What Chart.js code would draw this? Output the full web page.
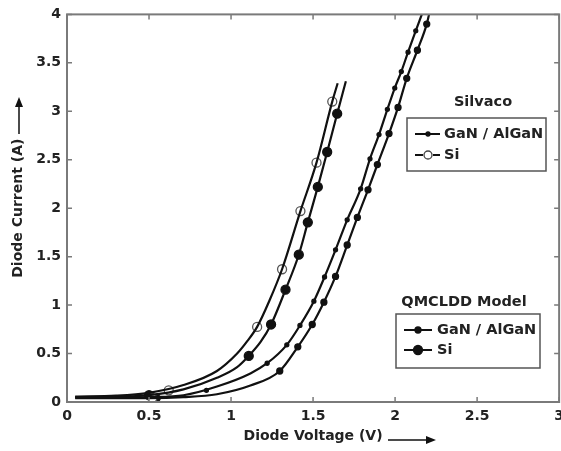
<!DOCTYPE html>
<html>
<head>
<meta charset="utf-8">
<script src="https://cdn.jsdelivr.net/npm/chart.js@4.4.1/dist/chart.umd.min.js"></script>
<style>
  html, body { margin: 0; padding: 0; background: #fff; overflow: hidden; }
  #wrap { width: 561px; height: 451px; overflow: hidden; }
</style>
</head>
<body>
<div id="wrap"><canvas id="chart" width="570" height="451"></canvas></div>
<script>
// curves (voltage in V, current in A)
const silvacoGaNV = [0.05, 0.3, 0.5, 0.71, 0.914, 1.118, 1.22, 1.34, 1.42, 1.505, 1.57, 1.637, 1.708, 1.79, 1.847, 1.902, 1.953, 1.998, 2.038, 2.079, 2.126, 2.163];
const silvacoGaNI = [0.05, 0.045, 0.05, 0.07, 0.16, 0.295, 0.4, 0.59, 0.79, 1.04, 1.29, 1.57, 1.88, 2.2, 2.51, 2.76, 3.02, 3.24, 3.41, 3.61, 3.83, 4.0];
const silvacoGaNMarkV = [0.85, 1.22, 1.34, 1.42, 1.505, 1.57, 1.637, 1.708, 1.79, 1.847, 1.902, 1.953, 1.998, 2.038, 2.079, 2.126];
const silvacoGaNMarkI = [0.12, 0.4, 0.59, 0.79, 1.04, 1.29, 1.57, 1.88, 2.2, 2.51, 2.76, 3.02, 3.24, 3.41, 3.61, 3.83];

const silvacoSiV = [0.05, 0.3, 0.5, 0.71, 0.914, 1.037, 1.1, 1.159, 1.235, 1.311, 1.423, 1.521, 1.617, 1.65];
const silvacoSiI = [0.055, 0.065, 0.095, 0.175, 0.32, 0.5, 0.63, 0.775, 1.05, 1.37, 1.97, 2.47, 3.1, 3.29];
const silvacoSiMarkV = [0.52, 0.62, 1.159, 1.311, 1.423, 1.521, 1.617];
const silvacoSiMarkI = [0.04, 0.12, 0.775, 1.37, 1.97, 2.47, 3.1];

const qmclddGaNV = [0.05, 0.3, 0.5, 0.71, 0.914, 1.118, 1.297, 1.407, 1.495, 1.566, 1.637, 1.708, 1.77, 1.835, 1.892, 1.963, 2.018, 2.071, 2.136, 2.193, 2.207];
const qmclddGaNI = [0.04, 0.04, 0.04, 0.05, 0.08, 0.17, 0.32, 0.569, 0.8, 1.03, 1.296, 1.62, 1.905, 2.19, 2.45, 2.77, 3.04, 3.34, 3.63, 3.9, 4.0];
const qmclddGaNMarkV = [0.55, 1.297, 1.407, 1.495, 1.566, 1.637, 1.708, 1.77, 1.835, 1.892, 1.963, 2.018, 2.071, 2.136, 2.193];
const qmclddGaNMarkI = [0.04, 0.32, 0.569, 0.8, 1.03, 1.296, 1.62, 1.905, 2.19, 2.45, 2.77, 3.04, 3.34, 3.63, 3.9];

const qmclddSiV = [0.05, 0.3, 0.5, 0.71, 0.914, 1.037, 1.108, 1.18, 1.244, 1.332, 1.413, 1.468, 1.529, 1.586, 1.647, 1.70];
const qmclddSiI = [0.045, 0.05, 0.07, 0.13, 0.25, 0.36, 0.476, 0.62, 0.8, 1.159, 1.52, 1.854, 2.22, 2.58, 2.975, 3.31];
const qmclddSiMarkV = [0.5, 1.108, 1.244, 1.332, 1.413, 1.468, 1.529, 1.586, 1.647];
const qmclddSiMarkI = [0.07, 0.476, 0.8, 1.159, 1.52, 1.854, 2.22, 2.58, 2.975];

const xTicks = [0, 0.5, 1, 1.5, 2, 2.5, 3];
const yTicks = [0, 0.5, 1, 1.5, 2, 2.5, 3, 3.5, 4];

const toPts = (xs, ys) => xs.map((x, i) => ({ x: x, y: ys[i] }));

const FONT = "'DejaVu Sans', Verdana, sans-serif";
const FRAME = "#7a7a7a";

const lineSet = (label, xs, ys) => ({
  label: label,
  data: toPts(xs, ys),
  showLine: true,
  borderColor: "#111",
  borderWidth: 2.2,
  pointRadius: 0,
  cubicInterpolationMode: "monotone",
});
const markSet = (label, xs, ys, r, fill, border) => ({
  label: label,
  data: toPts(xs, ys),
  showLine: false,
  pointRadius: r,
  pointBackgroundColor: fill,
  pointBorderColor: border,
  pointBorderWidth: 1.3,
});

// frame, inward ticks, arrows and the two boxed legends
const decor = {
  id: "decor",
  afterDraw(chart) {
    const c = chart.ctx;
    const a = chart.chartArea;
    const xs = chart.scales.x, ys = chart.scales.y;
    c.save();
    c.strokeStyle = FRAME;
    c.lineWidth = 2;
    c.strokeRect(a.left, a.top, a.right - a.left, a.bottom - a.top);
    c.lineWidth = 1.5;
    c.beginPath();
    xTicks.forEach((v) => {
      const px = xs.getPixelForValue(v);
      c.moveTo(px, a.bottom); c.lineTo(px, a.bottom - 5);
      c.moveTo(px, a.top); c.lineTo(px, a.top + 5);
    });
    yTicks.forEach((v) => {
      const py = ys.getPixelForValue(v);
      c.moveTo(a.left, py); c.lineTo(a.left + 5, py);
      c.moveTo(a.right, py); c.lineTo(a.right - 5, py);
    });
    c.stroke();

    // axis title arrows
    c.strokeStyle = "#111";
    c.fillStyle = "#111";
    c.lineWidth = 1.5;
    c.beginPath();
    c.moveTo(388, 440); c.lineTo(428, 440);
    c.moveTo(19, 134); c.lineTo(19, 105);
    c.stroke();
    c.beginPath();
    c.moveTo(436, 440); c.lineTo(426, 436); c.lineTo(426, 444); c.closePath();
    c.moveTo(19, 97); c.lineTo(15, 107); c.lineTo(23, 107); c.closePath();
    c.fill();

    // legends
    c.font = "bold 14.5px " + FONT;
    c.textBaseline = "middle";
    c.textAlign = "center";
    c.fillStyle = "#222";
    c.fillText("Silvaco", 483, 102);
    c.fillText("QMCLDD Model", 464, 302);
    c.strokeStyle = "#555";
    c.lineWidth = 1.5;
    c.strokeRect(407, 118, 139, 53);
    c.strokeRect(396, 314, 144, 54);
    c.textAlign = "left";
    c.fillText("GaN / AlGaN", 444, 134);
    c.fillText("Si", 444, 155);
    c.fillText("GaN / AlGaN", 437, 330);
    c.fillText("Si", 437, 350);

    c.strokeStyle = "#111";
    c.lineWidth = 1.8;
    c.beginPath();
    c.moveTo(415, 134); c.lineTo(440, 134);
    c.moveTo(415, 155); c.lineTo(423, 155);
    c.moveTo(433, 155); c.lineTo(440, 155);
    c.moveTo(404, 330); c.lineTo(432, 330);
    c.moveTo(404, 350); c.lineTo(432, 350);
    c.stroke();
    const dot = (x, y, r, fill, stroke) => {
      c.beginPath();
      c.arc(x, y, r, 0, Math.PI * 2);
      c.fillStyle = fill;
      c.fill();
      c.lineWidth = 1.3;
      c.strokeStyle = stroke;
      c.stroke();
    };
    dot(428, 134, 2, "#111", "#111");
    dot(428, 155, 4, "#fff", "#444");
    dot(418, 330, 3, "#111", "#111");
    dot(418, 350, 4.5, "#111", "#111");
    c.restore();
  },
};

const tickFont = { family: FONT, size: 14, weight: "bold" };

const ctx = document.getElementById("chart");
const chart = new Chart(ctx, {
  type: "scatter",
  data: {
    datasets: [
      lineSet("Silvaco GaN / AlGaN", silvacoGaNV, silvacoGaNI),
      lineSet("Silvaco Si", silvacoSiV, silvacoSiI),
      lineSet("QMCLDD GaN / AlGaN", qmclddGaNV, qmclddGaNI),
      lineSet("QMCLDD Si", qmclddSiV, qmclddSiI),
      markSet("Silvaco GaN / AlGaN pts", silvacoGaNMarkV, silvacoGaNMarkI, 2, "#111", "#111"),
      markSet("Silvaco Si pts", silvacoSiMarkV, silvacoSiMarkI, 4.5, "#fff", "#555"),
      markSet("QMCLDD GaN / AlGaN pts", qmclddGaNMarkV, qmclddGaNMarkI, 3, "#111", "#111"),
      markSet("QMCLDD Si pts", qmclddSiMarkV, qmclddSiMarkI, 4.5, "#111", "#111"),
    ],
  },
  options: {
    responsive: false,
    animation: false,
    layout: { padding: { top: 3, right: 0, left: 0, bottom: 0 } },
    plugins: { legend: { display: false }, tooltip: { enabled: false } },
    scales: {
      x: {
        type: "linear",
        min: 0,
        max: 3,
        afterBuildTicks: (s) => { s.ticks = xTicks.map((v) => ({ value: v })); },
        afterFit: (s) => { s.height = 49; },
        grid: { display: false, drawTicks: false },
        border: { display: false },
        ticks: { padding: 6, color: "#222", font: tickFont, callback: (v) => String(v) },
        title: {
          display: true,
          text: "Diode Voltage (V)",
          color: "#222",
          padding: { top: 0, bottom: 6 },
          font: tickFont,
        },
      },
      y: {
        type: "linear",
        min: 0,
        max: 4,
        afterBuildTicks: (s) => { s.ticks = yTicks.map((v) => ({ value: v })); },
        afterFit: (s) => { s.width = 67; },
        grid: { display: false, drawTicks: false },
        border: { display: false },
        ticks: { padding: 6, color: "#222", font: tickFont, callback: (v) => String(v) },
        title: {
          display: true,
          text: "Diode Current (A)",
          color: "#222",
          padding: { top: 10, bottom: 0 },
          font: tickFont,
        },
      },
    },
  },
  plugins: [decor],
});
</script>
</body>
</html>
